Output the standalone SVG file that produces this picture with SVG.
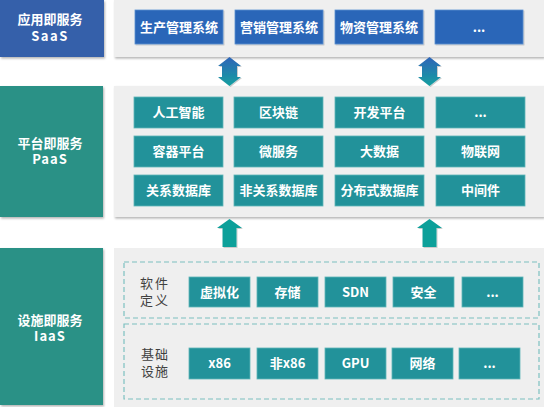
<svg xmlns="http://www.w3.org/2000/svg" width="544" height="407" viewBox="0 0 544 407">
<defs>
<filter id="sh" x="-5%" y="-5%" width="115%" height="120%">
<feDropShadow dx="1" dy="1.5" stdDeviation="1" flood-color="#000" flood-opacity="0.3"/>
</filter>
<filter id="sh2" x="-5%" y="-10%" width="115%" height="130%">
<feDropShadow dx="1" dy="1" stdDeviation="0.6" flood-color="#000" flood-opacity="0.2"/>
</filter>
<linearGradient id="gArr" x1="0" y1="0" x2="0" y2="1">
<stop offset="0" stop-color="#2e64b8"/>
<stop offset="1" stop-color="#15a0a0"/>
</linearGradient>
<style>
.lbl{font-family:"Noto Sans CJK SC","Microsoft YaHei",sans-serif;font-weight:bold;font-size:13px;fill:#fff;text-anchor:middle}
.gray{font-family:"Noto Sans CJK SC",sans-serif;font-size:13px;fill:#404040;text-anchor:middle}
.panel{fill:#efefef}
.saasL{fill:#3660aa}
.teaL{fill:#2a9186}
.bI{fill:#2a66b8;stroke:#5b8fd0;stroke-width:0.8}
.tI{fill:#22929a;stroke:#5fb6b8;stroke-width:0.8}
.dash{fill:none;stroke:#7cc0c0;stroke-width:1.2;stroke-dasharray:5 3}
</style>
</defs>

<g id="saas">
<rect class="saasL" x="0" y="0" width="104" height="57" filter="url(#sh)"/>
<text class="lbl" x="50" y="24">应用即服务</text>
<text class="lbl" x="50" y="41" letter-spacing="1.5">SaaS</text>
<rect class="panel" x="114" y="0" width="430" height="57" filter="url(#sh)"/>
<g id="saas-1"><rect class="bI" x="135" y="10" width="88" height="34" filter="url(#sh2)"/><text class="lbl" x="179" y="31.5">生产管理系统</text></g>
<g id="saas-2"><rect class="bI" x="235" y="10" width="88" height="34" filter="url(#sh2)"/><text class="lbl" x="279" y="31.5">营销管理系统</text></g>
<g id="saas-3"><rect class="bI" x="335" y="10" width="88" height="34" filter="url(#sh2)"/><text class="lbl" x="379" y="31.5">物资管理系统</text></g>
<g id="saas-4"><rect class="bI" x="435" y="10" width="88" height="34" filter="url(#sh2)"/><text class="lbl" x="479" y="31.5">...</text></g>
</g>

<g id="paas">
<rect class="teaL" x="0" y="86" width="103" height="131" filter="url(#sh)"/>
<text class="lbl" x="50" y="148">平台即服务</text>
<text class="lbl" x="50" y="164" letter-spacing="1">PaaS</text>
<rect class="panel" x="114" y="86" width="430" height="131" filter="url(#sh)"/>
<g id="p1"><rect class="tI" x="134" y="97" width="89" height="31"/><text class="lbl" x="178.5" y="117">人工智能</text></g>
<g id="p2"><rect class="tI" x="234" y="97" width="89" height="31"/><text class="lbl" x="278.5" y="117">区块链</text></g>
<g id="p3"><rect class="tI" x="335" y="97" width="89" height="31"/><text class="lbl" x="379.5" y="117">开发平台</text></g>
<g id="p4"><rect class="tI" x="436" y="97" width="89" height="31"/><text class="lbl" x="480.5" y="117">...</text></g>
<g id="p5"><rect class="tI" x="134" y="136" width="89" height="31"/><text class="lbl" x="178.5" y="156">容器平台</text></g>
<g id="p6"><rect class="tI" x="234" y="136" width="89" height="31"/><text class="lbl" x="278.5" y="156">微服务</text></g>
<g id="p7"><rect class="tI" x="335" y="136" width="89" height="31"/><text class="lbl" x="379.5" y="156">大数据</text></g>
<g id="p8"><rect class="tI" x="436" y="136" width="89" height="31"/><text class="lbl" x="480.5" y="156">物联网</text></g>
<g id="p9"><rect class="tI" x="134" y="175" width="89" height="31"/><text class="lbl" x="178.5" y="195">关系数据库</text></g>
<g id="p10"><rect class="tI" x="234" y="175" width="89" height="31"/><text class="lbl" x="278.5" y="195">非关系数据库</text></g>
<g id="p11"><rect class="tI" x="335" y="175" width="89" height="31"/><text class="lbl" x="379.5" y="195">分布式数据库</text></g>
<g id="p12"><rect class="tI" x="436" y="175" width="89" height="31"/><text class="lbl" x="480.5" y="195">中间件</text></g>
</g>

<g id="iaas">
<rect class="teaL" x="0" y="248" width="103" height="157" filter="url(#sh)"/>
<text class="lbl" x="50" y="325">设施即服务</text>
<text class="lbl" x="50" y="341" letter-spacing="1">IaaS</text>
<rect class="panel" x="114" y="248" width="430" height="159"/>
<rect class="dash" x="124" y="262" width="415" height="56"/>
<rect class="dash" x="124" y="324" width="415" height="75"/>
<text class="gray" x="155" y="288" letter-spacing="2">软件</text>
<text class="gray" x="155" y="305" letter-spacing="2">定义</text>
<text class="gray" x="155" y="359" letter-spacing="1">基础</text>
<text class="gray" x="155" y="376" letter-spacing="1">设施</text>
<g id="s1"><rect class="tI" x="189" y="277" width="61" height="30"/><text class="lbl" x="219.5" y="296.5">虚拟化</text></g>
<g id="s2"><rect class="tI" x="257" y="277" width="61" height="30"/><text class="lbl" x="287.5" y="296.5">存储</text></g>
<g id="s3"><rect class="tI" x="325" y="277" width="61" height="30"/><text class="lbl" x="355.5" y="296.5">SDN</text></g>
<g id="s4"><rect class="tI" x="393" y="277" width="61" height="30"/><text class="lbl" x="423.5" y="296.5">安全</text></g>
<g id="s5"><rect class="tI" x="462" y="277" width="61" height="30"/><text class="lbl" x="492.5" y="296.5">...</text></g>
<g id="h1"><rect class="tI" x="189" y="348" width="61" height="31"/><text class="lbl" x="219.5" y="368">x86</text></g>
<g id="h2"><rect class="tI" x="257" y="348" width="61" height="31"/><text class="lbl" x="287.5" y="368">非x86</text></g>
<g id="h3"><rect class="tI" x="325" y="348" width="61" height="31"/><text class="lbl" x="355.5" y="368">GPU</text></g>
<g id="h4"><rect class="tI" x="392" y="348" width="61" height="31"/><text class="lbl" x="422.5" y="368">网络</text></g>
<g id="h5"><rect class="tI" x="459" y="348" width="61" height="31"/><text class="lbl" x="489.5" y="368">...</text></g>
</g>

<g id="connectors">
<path d="M229.5,57 L241,66 L237,66 L237,77 L241,77 L229.5,86 L218,77 L222,77 L222,66 L218,66 Z" fill="url(#gArr)" filter="url(#sh2)"/>
<path d="M429.5,57 L441,66 L437,66 L437,77 L441,77 L429.5,86 L418,77 L422,77 L422,66 L418,66 Z" fill="url(#gArr)" filter="url(#sh2)"/>
<path d="M229.5,219 L242,228 L236.5,228 L236.5,247 L222.5,247 L222.5,228 L217,228 Z" fill="#0fa09a" filter="url(#sh2)"/>
<path d="M429.5,219 L442,228 L436.5,228 L436.5,247 L422.5,247 L422.5,228 L417,228 Z" fill="#0fa09a" filter="url(#sh2)"/>
</g>
</svg>
